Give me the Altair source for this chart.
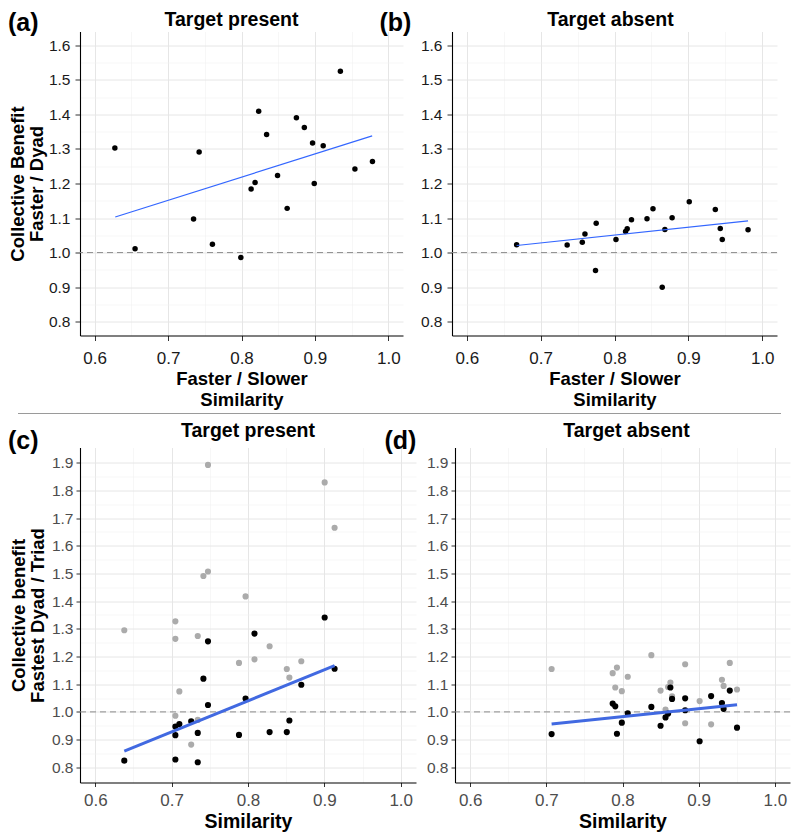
import altair as alt
import pandas as pd

FONT = "Liberation Sans"

# ---------------- data ----------------
# (a) Target present: Faster/Slower similarity vs collective benefit (Faster / Dyad)
a_sim = [0.6275, 0.655, 0.7347, 0.7423, 0.7604, 0.7991, 0.8131, 0.8185, 0.8234, 0.8342,
         0.8491, 0.8622, 0.8748, 0.8856, 0.8968, 0.8991, 0.9113, 0.9347, 0.9545, 0.9784]
a_ben = [1.303, 1.011, 1.097, 1.291, 1.024, 0.986, 1.184, 1.203, 1.409, 1.342,
         1.223, 1.128, 1.390, 1.362, 1.317, 1.200, 1.309, 1.525, 1.242, 1.264]
a_fit_x = [0.628, 0.978]
a_fit_y = [1.103, 1.338]

# (b) Target absent
b_sim = [0.6675, 0.7359, 0.7564, 0.7600, 0.7752, 0.7743, 0.8020, 0.8150, 0.8172, 0.8230,
         0.8440, 0.8521, 0.8682, 0.8646, 0.8780, 0.9012, 0.9365, 0.9432, 0.9459, 0.9808]
b_ben = [1.023, 1.022, 1.030, 1.054, 1.085, 0.948, 1.038, 1.061, 1.069, 1.095,
         1.098, 1.127, 1.067, 0.900, 1.101, 1.147, 1.125, 1.070, 1.038, 1.066]
b_fit_x = [0.6675, 0.9808]
b_fit_y = [1.0205, 1.092]

# (c) Target present: similarity vs collective benefit (Fastest Dyad / Triad)
c_sim_dyad = [0.638, 0.7049, 0.7101, 0.7049, 0.7049, 0.7256, 0.7342, 0.7342, 0.7416, 0.7476,
              0.7476, 0.7882, 0.7968, 0.8085, 0.8283, 0.8508, 0.8542, 0.8698, 0.9004, 0.9134]
c_ben_dyad = [0.824, 0.947, 0.956, 0.916, 0.828, 0.966, 0.924, 0.818, 1.120, 1.255,
              1.025, 0.917, 1.048, 1.283, 0.927, 0.927, 0.969, 1.098, 1.341, 1.156]
c_sim_triad = [0.638, 0.7049, 0.7049, 0.7049, 0.7101, 0.7256, 0.7342, 0.7342, 0.7416, 0.7476,
               0.7476, 0.7882, 0.7968, 0.8085, 0.8283, 0.8508, 0.8542, 0.8698, 0.9004, 0.9134]
c_ben_triad = [1.295, 1.327, 1.264, 0.986, 1.074, 0.882, 1.274, 0.971, 1.491, 1.892,
               1.507, 1.177, 1.417, 1.190, 1.237, 1.155, 1.124, 1.183, 1.829, 1.665]
c_fit_x = [0.638, 0.9134]
c_fit_y = [0.858, 1.167]

# (d) Target absent
d_sim_dyad = [0.7069, 0.7871, 0.7905, 0.7927, 0.7991, 0.8069, 0.8379, 0.8500, 0.8565, 0.8599,
              0.8629, 0.8651, 0.8823, 0.8823, 0.9013, 0.9164, 0.9306, 0.9328, 0.9409, 0.9504]
d_ben_dyad = [0.920, 1.030, 1.020, 0.921, 0.961, 0.995, 1.018, 0.950, 0.980, 0.994,
              1.088, 1.047, 1.049, 1.006, 0.894, 1.057, 1.032, 1.011, 1.077, 0.943]
d_sim_triad = [0.7069, 0.7871, 0.7927, 0.7905, 0.7991, 0.8069, 0.8379, 0.8500, 0.8565, 0.8629,
               0.8599, 0.8651, 0.8823, 0.8823, 0.9013, 0.9164, 0.9306, 0.9328, 0.9409, 0.9504]
d_ben_triad = [1.155, 1.140, 1.160, 1.088, 1.075, 1.127, 1.205, 1.077, 1.008, 1.106,
               1.090, 1.056, 1.172, 0.959, 1.039, 0.955, 1.116, 1.094, 1.177, 1.081]
d_fit_x = [0.7069, 0.9504]
d_fit_y = [0.956, 1.026]

x_major = [0.6, 0.7, 0.8, 0.9, 1.0]
x_minor = [0.65, 0.75, 0.85, 0.95]
y_major_top = [0.8, 0.9, 1.0, 1.1, 1.2, 1.3, 1.4, 1.5, 1.6]
y_minor_top = [0.85, 0.95, 1.05, 1.15, 1.25, 1.35, 1.45, 1.55]
y_major_bot = [0.8, 0.9, 1.0, 1.1, 1.2, 1.3, 1.4, 1.5, 1.6, 1.7, 1.8, 1.9]
y_minor_bot = [0.85, 0.95, 1.05, 1.15, 1.25, 1.35, 1.45, 1.55, 1.65, 1.75, 1.85]
ref_line = [1.0]

MINOR = "abs(datum.value*10 - round(datum.value*10)) > 0.01"


def make_axis(major, minor, title, label_color, label_size, tick, lpad, tpad, tsize, lh):
    kw = dict(
        values=sorted(major + minor),
        labelExpr=f"({MINOR}) ? '' : format(datum.value, '.1f')",
        grid=True,
        gridColor={"condition": {"test": MINOR, "value": "#F2F2F2"}, "value": "#E6E6E6"},
        gridWidth={"condition": {"test": MINOR, "value": 0.6}, "value": 1.0},
        tickOpacity={"condition": {"test": MINOR, "value": 0}, "value": 1},
        tickSize=tick, tickColor="#333333", tickWidth=1,
        domainColor="#000000", domainWidth=1.1,
        labelFont=FONT, labelFontSize=label_size, labelColor=label_color,
        labelPadding=lpad, labelOverlap=False, labelFlush=False, labelBound=False,
    )
    if title is None:
        kw["title"] = None
    else:
        kw.update(title=title, titleFont=FONT, titleFontSize=tsize, titleFontWeight="bold",
                  titleColor="#000000", titlePadding=tpad, titleLineHeight=lh)
    return alt.Axis(**kw)


def panel(sim_black, ben_black, fit_x, fit_y, ydom, yaxis, xaxis, w, h,
          letter, letter_dx, letter_dy, title, title_dx, title_dy,
          sim_gray=None, ben_gray=None, psize=30, line_color="#3366FF", line_w=1.2,
          extra=None):
    xs = alt.Scale(domain=[0.58, 1.02], nice=False, zero=False)
    ys = alt.Scale(domain=ydom, nice=False, zero=False)
    X = lambda f: alt.X(f, type="quantitative", scale=xs, axis=xaxis)
    Y = lambda f: alt.Y(f, type="quantitative", scale=ys, axis=yaxis)

    layers = []
    layers.append(
        alt.Chart(pd.DataFrame({"y": ref_line})).mark_rule(
            color="#8C8C8C", strokeDash=[6, 4], strokeWidth=1
        ).encode(y=Y("y"))
    )
    if sim_gray is not None:
        layers.append(
            alt.Chart(pd.DataFrame({"x": sim_gray, "y": ben_gray})).mark_circle(
                color="#ABABAB", opacity=1, size=psize
            ).encode(x=X("x"), y=Y("y"))
        )
    layers.append(
        alt.Chart(pd.DataFrame({"x": sim_black, "y": ben_black})).mark_circle(
            color="#000000", opacity=1, size=psize
        ).encode(x=X("x"), y=Y("y"))
    )
    layers.append(
        alt.Chart(pd.DataFrame({"x": fit_x, "y": fit_y})).mark_line(
            color=line_color, strokeWidth=line_w
        ).encode(x=X("x"), y=Y("y"))
    )
    layers.append(
        alt.Chart(pd.DataFrame({"t": [letter]})).mark_text(
            font=FONT, fontSize=25, fontWeight="bold", align="left",
            baseline="alphabetic", color="#000000"
        ).encode(x=alt.value(letter_dx), y=alt.value(letter_dy), text="t:N")
    )
    layers.append(
        alt.Chart(pd.DataFrame({"t": [title]})).mark_text(
            font=FONT, fontSize=19.5, fontWeight="bold", align="center",
            baseline="alphabetic", color="#000000"
        ).encode(x=alt.value(title_dx), y=alt.value(title_dy), text="t:N")
    )
    if extra is not None:
        layers.append(extra)
    return alt.layer(*layers).properties(width=w, height=h)


TOP_LBL = "#1A1A1A"
BOT_LBL = "#4D4D4D"

xa_top = make_axis(x_major, x_minor, ["Faster / Slower", "Similarity"], TOP_LBL, 17, 5, 10, 3, 18.5, 20.5)
ya_top = make_axis(y_major_top, y_minor_top, ["Collective Benefit", "Faster / Dyad"], TOP_LBL, 15.5, 5, 5, 2, 18.5, 19)
yb_top = make_axis(y_major_top, y_minor_top, None, TOP_LBL, 15.5, 5, 5, 2, 18.5, 19)

xc_bot = make_axis(x_major, x_minor, "Similarity", BOT_LBL, 17, 4, 6, 4, 19.5, 20)
yc_bot = make_axis(y_major_bot, y_minor_bot, ["Collective benefit", "Fastest Dyad / Triad"], BOT_LBL, 15.5, 4, 3, 4, 18.5, 19)
yd_bot = make_axis(y_major_bot, y_minor_bot, None, BOT_LBL, 15.5, 4, 3, 4, 18.5, 19)

separator = alt.Chart(pd.DataFrame({"s": [0]})).mark_rule(
    color="#9A9A9A", strokeWidth=1.2
).encode(x=alt.value(-62), x2=alt.value(701), y=alt.value(-34))

pa = panel(a_sim, a_ben, a_fit_x, a_fit_y, [0.76, 1.64], ya_top, xa_top, 323, 304,
           "(a)", -72, -1, "Target present", 151.5, -6, psize=30)
pb = panel(b_sim, b_ben, b_fit_x, b_fit_y, [0.76, 1.64], yb_top, xa_top, 325, 304,
           "(b)", -72.5, -1, "Target absent", 158.5, -6, psize=30)
pc = panel(c_sim_dyad, c_ben_dyad, c_fit_x, c_fit_y, [0.745, 1.955], yc_bot, xc_bot, 336, 335,
           "(c)", -72, 1, "Target present", 168, -11,
           sim_gray=c_sim_triad, ben_gray=c_ben_triad, psize=38,
           line_color="#4169E1", line_w=3, extra=separator)
pd_ = panel(d_sim_dyad, d_ben_dyad, d_fit_x, d_fit_y, [0.745, 1.955], yd_bot, xc_bot, 335, 335,
            "(d)", -70.5, 1, "Target absent", 171.5, -11,
            sim_gray=d_sim_triad, ben_gray=d_ben_triad, psize=38,
            line_color="#4169E1", line_w=3)

row1 = alt.hconcat(pa, pb, spacing=49, bounds="flush")
row2 = alt.hconcat(pc, pd_, spacing=39, bounds="flush")
chart = alt.vconcat(row1, row2, spacing=4).properties(
    padding={"top": 1.5, "left": 0, "right": 0, "bottom": 0}
).configure_view(stroke=None)

chart.save("out.html", embed_options={"renderer": "svg", "actions": False})
